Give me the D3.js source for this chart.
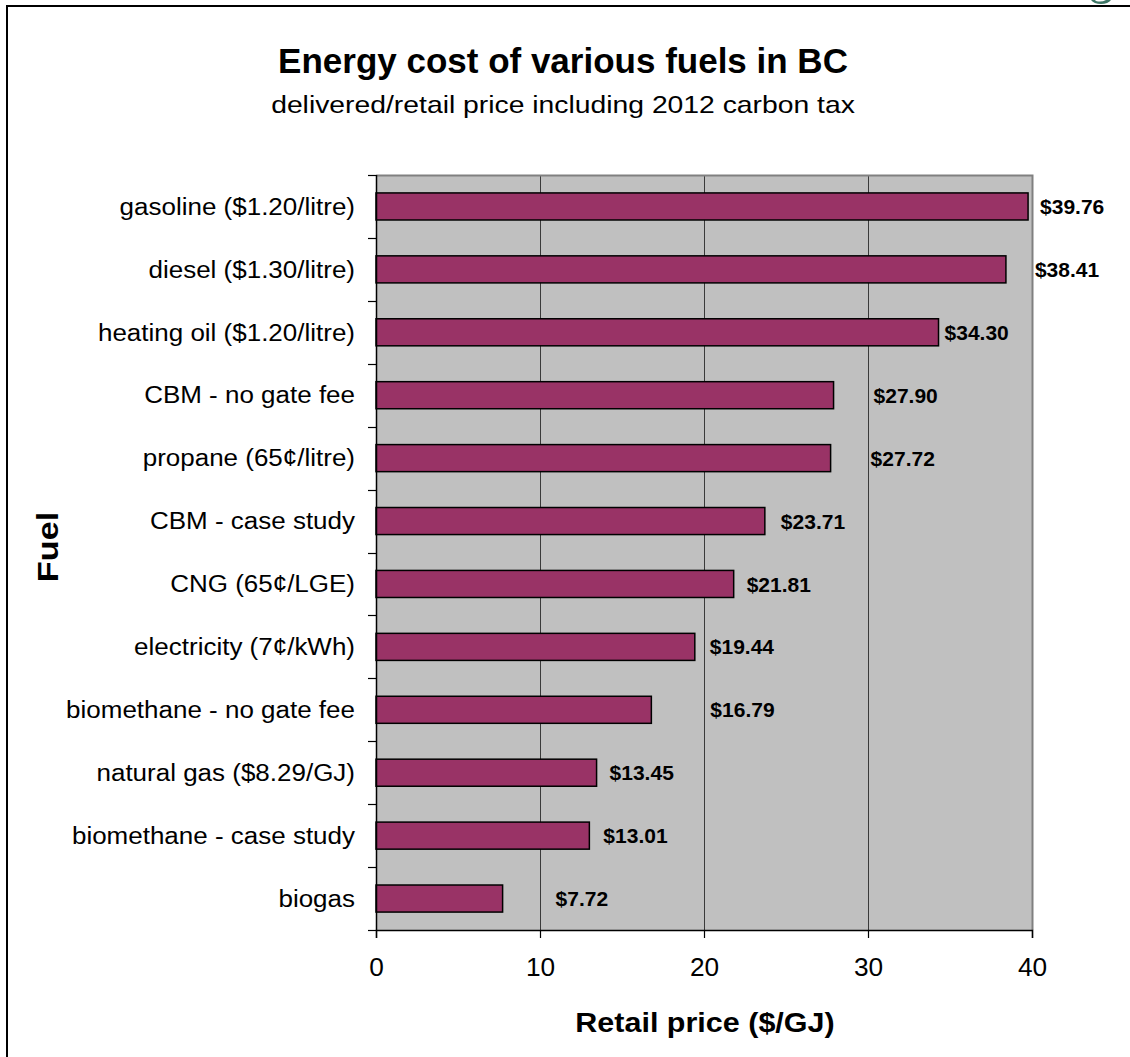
<!DOCTYPE html>
<html>
<head>
<meta charset="utf-8">
<script src="https://cdn.jsdelivr.net/npm/d3@7/dist/d3.min.js"></script>
<style>
  html, body { margin: 0; padding: 0; background: #fff; }
  svg { display: block; font-family: "Liberation Sans", Arial, sans-serif; }
</style>
</head>
<body>
<svg id="chart" width="1130" height="1057"></svg>
<script>
// Fuels, top to bottom, with their delivered retail price in $/GJ
const fuels = [
  "gasoline ($1.20/litre)",
  "diesel ($1.30/litre)",
  "heating oil ($1.20/litre)",
  "CBM - no gate fee",
  "propane (65¢/litre)",
  "CBM - case study",
  "CNG (65¢/LGE)",
  "electricity (7¢/kWh)",
  "biomethane - no gate fee",
  "natural gas ($8.29/GJ)",
  "biomethane - case study",
  "biogas"
];
const prices = [39.76, 38.41, 34.30, 27.90, 27.72, 23.71, 21.81, 19.44, 16.79, 13.45, 13.01, 7.72];
const xTicks = [0, 10, 20, 30, 40];

// Layout
const plot = { left: 376, right: 1032, top: 175, bottom: 930 };
// Horizontal gap (px) between each bar end and its value label
const labelGap = [12, 29, 6, 40, 40, 16, 13, 15, 59, 13, 14, 53];

const svg = d3.select("#chart");

// Places a text at (x, y) and widens it horizontally by factor s
function placeWide(sel, xf, yf, s) {
  sel.attr("x", 0).attr("y", 0)
     .attr("transform", (d, i) => `translate(${typeof xf === "function" ? xf(d, i) : xf},${typeof yf === "function" ? yf(d, i) : yf}) scale(${s},1)`);
}

// Outer frame (runs off the page to the right and bottom)
svg.append("rect")
  .attr("x", 7).attr("y", 6)
  .attr("width", 1200).attr("height", 1200)
  .attr("fill", "none").attr("stroke", "#000").attr("stroke-width", 2);

// Tail of the page header lettering showing above the frame
svg.append("path")
  .attr("d", "M1091,0 Q1094,4 1101,4 Q1108,4 1111,0 L1106,0 Q1103,1.5 1100,1.5 Q1096,1.5 1095,0 Z")
  .attr("fill", "#3d7565");

const x = d3.scaleLinear().domain([0, 40]).range([plot.left, plot.right]);
const y = d3.scaleBand().domain(fuels).range([plot.top, plot.bottom]).paddingInner(0.57).paddingOuter(0.285);
const yBands = d3.scaleBand().domain(fuels).range([plot.top, plot.bottom]);

// Plot background
svg.append("rect")
  .attr("x", plot.left).attr("y", plot.top)
  .attr("width", plot.right - plot.left).attr("height", plot.bottom - plot.top)
  .attr("fill", "#c0c0c0");

// Vertical gridlines
svg.append("g")
  .selectAll("line")
  .data(xTicks.filter(t => t > 0 && t < 40))
  .join("line")
  .attr("x1", d => Math.round(x(d)) + 0.5).attr("x2", d => Math.round(x(d)) + 0.5)
  .attr("y1", plot.top).attr("y2", plot.bottom)
  .attr("stroke", "#3a3a3a").attr("stroke-width", 1);

// Plot border (top and right)
svg.append("path")
  .attr("d", `M${plot.left},${plot.top + 0.5}H${plot.right + 0.5}V${plot.bottom}`)
  .attr("fill", "none").attr("stroke", "#808080").attr("stroke-width", 2);

// Bars
svg.append("g")
  .selectAll("rect")
  .data(prices)
  .join("rect")
  .attr("x", x(0))
  .attr("y", (d, i) => y(fuels[i]))
  .attr("width", d => x(d) - x(0))
  .attr("height", y.bandwidth())
  .attr("fill", "#993366")
  .attr("stroke", "#000").attr("stroke-width", 1.5);

// Value labels
svg.append("g")
  .selectAll("text")
  .data(prices)
  .join("text")
  .call(placeWide, (d, i) => x(d) + labelGap[i], (d, i) => y(fuels[i]) + y.bandwidth() / 2, 1.0)
  .attr("dy", "0.36em")
  .attr("font-size", 21).attr("font-weight", "bold")
  .attr("fill", "#000")
  .text(d => "$" + d.toFixed(2));

// Category axis: line, ticks at band boundaries, labels centred on bands
const yAxisG = svg.append("g");
yAxisG.append("line")
  .attr("x1", plot.left + 0.5).attr("x2", plot.left + 0.5)
  .attr("y1", plot.top).attr("y2", plot.bottom)
  .attr("stroke", "#000").attr("stroke-width", 1.5);
const boundaries = fuels.map(f => yBands(f)).concat([plot.bottom]);
yAxisG.selectAll("line.tick")
  .data(boundaries)
  .join("line")
  .attr("class", "tick")
  .attr("x1", plot.left - 8).attr("x2", plot.left)
  .attr("y1", d => Math.round(d) + 0.5).attr("y2", d => Math.round(d) + 0.5)
  .attr("stroke", "#000").attr("stroke-width", 1.2);
yAxisG.selectAll("text")
  .data(fuels)
  .join("text")
  .call(placeWide, 355, d => yBands(d) + yBands.bandwidth() / 2, 1.13)
  .attr("dy", "0.36em")
  .attr("text-anchor", "end")
  .attr("font-size", 23)
  .attr("fill", "#000")
  .text(d => d);

// Value axis
const xAxis = d3.axisBottom(x).tickValues(xTicks).tickSize(8).tickPadding(20).tickFormat(d3.format("d"));
const xAxisG = svg.append("g")
  .attr("transform", `translate(0,${plot.bottom})`)
  .call(xAxis);
xAxisG.select(".domain").attr("stroke", "#000").attr("stroke-width", 1.5);
xAxisG.selectAll(".tick line").attr("stroke", "#000").attr("stroke-width", 1.2);
xAxisG.selectAll(".tick text")
  .attr("font-size", 25).attr("font-family", "Liberation Sans, Arial, sans-serif").attr("fill", "#000")
  .attr("transform", "scale(1.05,1)")
  .attr("x", 0);

// Titles
svg.append("text")
  .attr("x", 563).attr("y", 73)
  .attr("text-anchor", "middle")
  .attr("font-size", 35).attr("font-weight", "bold")
  .text("Energy cost of various fuels in BC");
svg.append("text")
  .call(placeWide, 563, 113, 1.18)
  .attr("text-anchor", "middle")
  .attr("font-size", 24)
  .text("delivered/retail price including 2012 carbon tax");

svg.append("text")
  .call(placeWide, 705, 1032, 1.13)
  .attr("text-anchor", "middle")
  .attr("font-size", 27).attr("font-weight", "bold")
  .text("Retail price ($/GJ)");

svg.append("text")
  .attr("transform", "translate(58,547) rotate(-90) scale(1.18,1)")
  .attr("text-anchor", "middle")
  .attr("font-size", 29).attr("font-weight", "bold")
  .text("Fuel");
</script>
</body>
</html>
